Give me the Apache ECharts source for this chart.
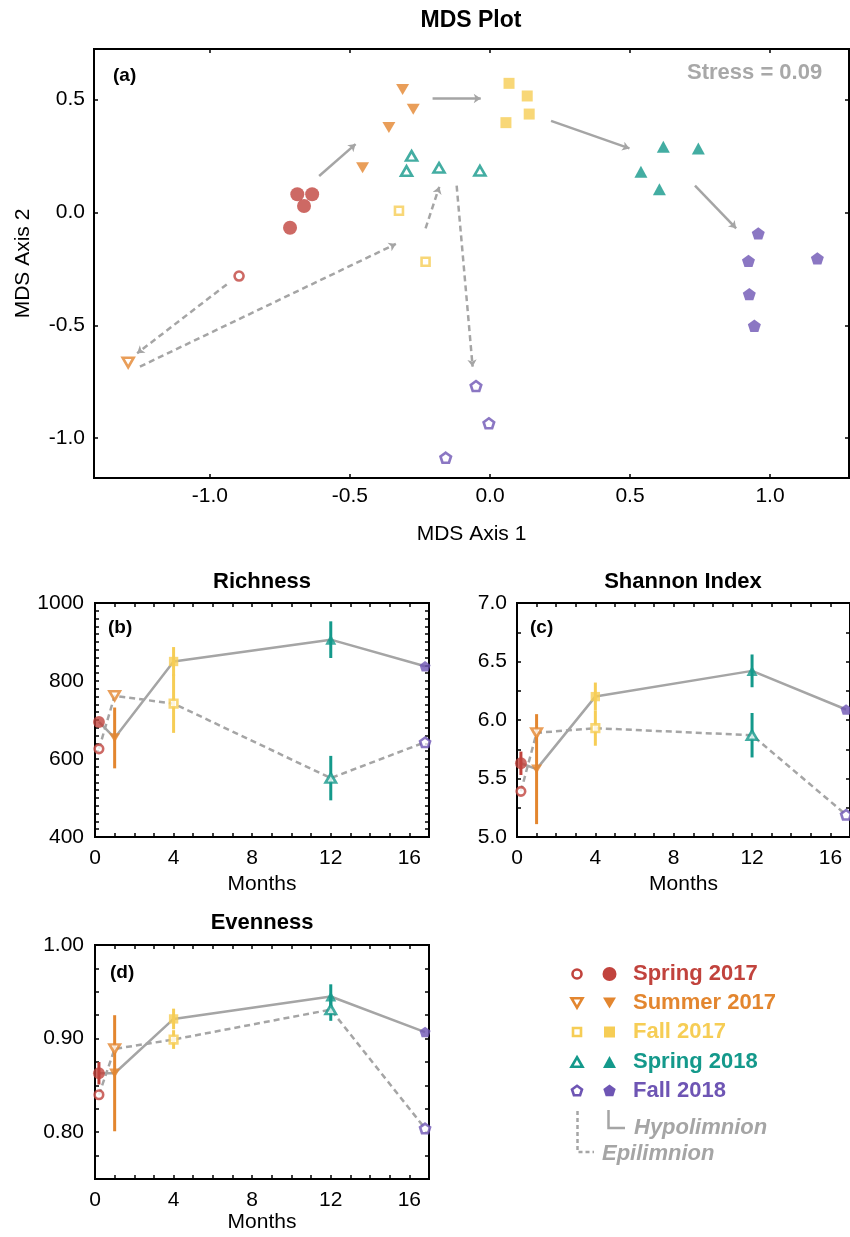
<!DOCTYPE html>
<html>
<head>
<meta charset="utf-8">
<title>MDS Plot, Richness, Shannon Index, Evenness</title>
<script src="https://cdn.jsdelivr.net/npm/echarts@6.0.0/dist/echarts.min.js"></script>
<style>
  html, body { margin: 0; padding: 0; background: #fff; }
  #chart { width: 850px; height: 1237px; }
</style>
</head>
<body>
<div id="chart"></div>
<script>
// seasons and sampling time (months)
var seasons = ['Spring 2017', 'Summer 2017', 'Fall 2017', 'Spring 2018', 'Fall 2018'];
var months = [0.2, 1, 4, 12, 16.8];

// MDS coordinates (axis 1, axis 2); Hypo = hypolimnion (filled), Epi = epilimnion (open)
var mdsSpring17Hypo = [[-0.688, 0.080], [-0.635, 0.080], [-0.664, 0.028], [-0.714, -0.068]];
var mdsSummer17Hypo = [[-0.312, 0.544], [-0.274, 0.456], [-0.361, 0.376], [-0.455, 0.197]];
var mdsFall17Hypo = [[0.068, 0.571], [0.133, 0.515], [0.140, 0.435], [0.057, 0.397]];
var mdsSpring18Hypo = [[0.619, 0.290], [0.744, 0.283], [0.539, 0.180], [0.605, 0.102]];
var mdsFall18Hypo = [[0.958, -0.093], [1.169, -0.204], [0.923, -0.215], [0.926, -0.362], [0.944, -0.502]];
var mdsSpring17Epi = [[-0.896, -0.282]];
var mdsSummer17Epi = [[-1.292, -0.665]];
var mdsFall17Epi = [[-0.325, 0.007], [-0.230, -0.219]];
var mdsSpring18Epi = [[-0.280, 0.250], [-0.298, 0.183], [-0.182, 0.197], [-0.036, 0.184]];
var mdsFall18Epi = [[-0.050, -0.769], [-0.004, -0.934], [-0.158, -1.086]];

// arrows between seasons (from, to) in MDS units
var hypoArrows = [
    [[-0.610, 0.161], [-0.480, 0.302]],
    [[-0.205, 0.504], [-0.033, 0.504]],
    [[0.218, 0.405], [0.498, 0.283]],
    [[0.732, 0.118], [0.879, -0.071]]
];
var epiArrows = [
    [[-0.940, -0.319], [-1.260, -0.624]],
    [[-1.250, -0.683], [-0.336, -0.140]],
    [[-0.230, -0.071], [-0.181, 0.113]],
    [[-0.119, 0.118], [-0.062, -0.683]]
];

// diversity indices, one value per season (null = no visible error bar)
var richHypo = [695, 654, 850, 906, 838];
var richHypoErr = [null, 78, 37, 47, null];
var richEpi = [626, 762, 742, 551, 643];
var richEpiErr = [null, null, 75, 57, null];

var shanHypo = [5.63, 5.58, 6.20, 6.42, 6.09];
var shanHypoErr = [0.10, 0.47, 0.12, 0.14, null];
var shanEpi = [5.39, 5.89, 5.93, 5.87, 5.19];
var shanEpiErr = [null, null, 0.15, 0.19, null];

var evenHypo = [0.863, 0.863, 0.921, 0.945, 0.907];
var evenHypoErr = [0.012, 0.062, 0.011, 0.013, null];
var evenEpi = [0.840, 0.889, 0.899, 0.931, 0.804];
var evenEpiErr = [null, null, 0.010, 0.012, null];

// tick labels
var mdsXLabels = [-1, -0.5, 0, 0.5, 1];
var mdsYLabels = [-1, -0.5, 0, 0.5];
var monthLabels = [0, 4, 8, 12, 16];
var richLabels = [400, 600, 800, 1000];
var shanLabels = [5.0, 5.5, 6.0, 6.5, 7.0];
var evenLabels = [0.80, 0.90, 1.00];

function steps(a, b, step) {
    var out = [];
    for (var v = a; v <= b + step / 1000; v += step) out.push(Math.round(v * 1000) / 1000);
    return out;
}
var monthTicks = steps(0, 17, 1);
var richTicks = steps(400, 1000, 20);
var shanTicks = steps(5, 7, 0.25);
var evenTicks = steps(0.75, 1, 0.025);

// ---- styles ----
var FONT = '"Liberation Sans", Arial, Helvetica, sans-serif';
var GRAY = '#a5a5a5';
var seasonColors = ['#c1433d', '#e3862f', '#f6cd55', '#14998b', '#6e55b4'];
var pentagon = 'path://M0,-10L9.511,-3.09L5.878,8.09L-5.878,8.09L-9.511,-3.09Z';
var seasonSymbols = ['circle', 'triangle', 'rect', 'triangle', pentagon];
var seasonRotate = [0, 180, 0, 0, 0];
var filledSize = [[14, 14], [13, 11], [11, 11], [13, 12], [13, 12.4]];
var openSize = [[9, 9], [11, 9.5], [8, 8], [11, 9.5], [10.5, 10]];

function markerItem(value, s, open, scale) {
    var sz = open ? openSize[s] : filledSize[s];
    return {
        value: value,
        symbol: seasonSymbols[s],
        symbolRotate: seasonRotate[s],
        symbolSize: [sz[0] * scale, sz[1] * scale],
        itemStyle: open
            ? { color: '#fff', borderColor: seasonColors[s], borderWidth: 2.6 }
            : { color: seasonColors[s], borderWidth: 0 }
    };
}

var labelStyle = { color: '#000', fontSize: 21, fontFamily: FONT };
var tickStyle = { color: '#000', width: 1.5 };

function axisPair(dim, g, min, max, labels, ticks, fmt, margin, name, gap) {
    var main = {
        type: 'value', gridIndex: g, min: min, max: max,
        position: dim === 'x' ? 'bottom' : 'left',
        axisLine: { show: false, onZero: false }, splitLine: { show: false },
        axisTick: { show: true, inside: true, length: 4, customValues: ticks, lineStyle: tickStyle },
        axisLabel: Object.assign({ customValues: labels, formatter: fmt, margin: margin }, labelStyle)
    };
    if (name) {
        main.name = name;
        main.nameLocation = 'middle';
        main.nameGap = gap;
        main.nameTextStyle = { color: '#000', fontSize: 21, fontFamily: FONT };
    }
    var opp = {
        type: 'value', gridIndex: g, min: min, max: max,
        position: dim === 'x' ? 'top' : 'right',
        axisLine: { show: false, onZero: false }, splitLine: { show: false },
        axisTick: { show: true, inside: true, length: 4, customValues: ticks, lineStyle: tickStyle },
        axisLabel: { show: false }
    };
    return [main, opp];
}

function fix(n) { return function (v) { return Number(v).toFixed(n); }; }

var grids = [
    { left: 94, top: 49, width: 755, height: 429 },
    { left: 95, top: 603, width: 334, height: 234 },
    { left: 517, top: 603, width: 333, height: 234 },
    { left: 95, top: 945, width: 334, height: 234 }
].map(function (g) {
    return Object.assign({ show: true, borderColor: '#000', borderWidth: 2, backgroundColor: 'transparent',
        containLabel: false, outerBoundsMode: 'none' }, g);
});

var xAxes = [].concat(
    axisPair('x', 0, -1.414, 1.282, mdsXLabels, mdsXLabels, fix(1), 8, 'MDS Axis 1', 46),
    axisPair('x', 1, 0, 17, monthLabels, monthTicks, fix(0), 11, 'Months', 37),
    axisPair('x', 2, 0, 17, monthLabels, monthTicks, fix(0), 11, 'Months', 37),
    axisPair('x', 3, 0, 17, monthLabels, monthTicks, fix(0), 11, 'Months', 33)
);
var yAxes = [].concat(
    axisPair('y', 0, -1.176, 0.723, mdsYLabels, mdsYLabels, fix(1), 9, 'MDS Axis 2', 60),
    axisPair('y', 1, 400, 1000, richLabels, richTicks, fix(0), 11),
    axisPair('y', 2, 5, 7, shanLabels, shanTicks, fix(1), 10),
    axisPair('y', 3, 0.75, 1, evenLabels, evenTicks, fix(2), 11)
);

var series = [];

// MDS arrows
function arrowSeries(list, dashed) {
    return {
        type: 'lines', coordinateSystem: 'cartesian2d', xAxisIndex: 0, yAxisIndex: 0, z: 3, silent: true,
        symbol: ['none', 'arrow'], symbolSize: 7,
        lineStyle: { color: GRAY, width: 2.5, opacity: 1, curveness: 0, type: dashed ? [6, 4] : 'solid' },
        data: list.map(function (a) { return { coords: a }; })
    };
}
series.push(arrowSeries(hypoArrows, false));
series.push(arrowSeries(epiArrows, true));

// MDS points
var mdsHypo = [mdsSpring17Hypo, mdsSummer17Hypo, mdsFall17Hypo, mdsSpring18Hypo, mdsFall18Hypo];
var mdsEpi = [mdsSpring17Epi, mdsSummer17Epi, mdsFall17Epi, mdsSpring18Epi, mdsFall18Epi];
mdsHypo.forEach(function (pts, s) {
    series.push({ type: 'scatter', name: seasons[s] + ' Hypolimnion', xAxisIndex: 0, yAxisIndex: 0, z: 5,
        data: pts.map(function (p) { return markerItem(p, s, false, 1); }) });
});
mdsEpi.forEach(function (pts, s) {
    series.push({ type: 'scatter', name: seasons[s] + ' Epilimnion', xAxisIndex: 0, yAxisIndex: 0, z: 5,
        data: pts.map(function (p) { return markerItem(p, s, true, 1); }) });
});

// diversity panels
function errorSeries(ax, vals, errs) {
    var data = [];
    months.forEach(function (m, i) {
        if (errs[i] != null) data.push([m, vals[i] - errs[i], vals[i] + errs[i], i]);
    });
    return {
        type: 'custom', xAxisIndex: ax, yAxisIndex: ax, z: 4, silent: true,
        encode: { x: 0, y: [1, 2] },
        renderItem: function (params, api) {
            var lo = api.coord([api.value(0), api.value(1)]);
            var hi = api.coord([api.value(0), api.value(2)]);
            return { type: 'line', shape: { x1: lo[0], y1: lo[1], x2: hi[0], y2: hi[1] },
                style: { stroke: seasonColors[api.value(3)], lineWidth: 3 } };
        },
        data: data
    };
}

function panel(g, hypo, hypoErr, epi, epiErr) {
    var ax = 2 * g;
    var pair = function (vals) { return months.map(function (m, i) { return [m, vals[i]]; }); };
    series.push({ type: 'line', xAxisIndex: ax, yAxisIndex: ax, z: 2, silent: true, symbol: 'none',
        lineStyle: { color: GRAY, width: 2.5 }, data: pair(hypo) });
    series.push({ type: 'line', xAxisIndex: ax, yAxisIndex: ax, z: 2, silent: true, symbol: 'none',
        lineStyle: { color: GRAY, width: 2.5, type: [6, 4] }, data: pair(epi) });
    series.push(errorSeries(ax, hypo, hypoErr));
    series.push(errorSeries(ax, epi, epiErr));
    series.push({ type: 'scatter', xAxisIndex: ax, yAxisIndex: ax, z: 5, clip: false,
        data: pair(epi).map(function (p, s) { return markerItem(p, s, true, 0.95); }) });
    series.push({ type: 'scatter', xAxisIndex: ax, yAxisIndex: ax, z: 6, clip: false,
        data: pair(hypo).map(function (p, s) { return markerItem(p, s, false, 0.85); }) });
}
panel(1, richHypo, richHypoErr, richEpi, richEpiErr);
panel(2, shanHypo, shanHypoErr, shanEpi, shanEpiErr);
panel(3, evenHypo, evenHypoErr, evenEpi, evenEpiErr);

// titles
function titleAt(text, cx, top, size) {
    return { text: text, left: cx, top: top, textAlign: 'center', padding: 0,
        textStyle: { color: '#000', fontSize: size, fontWeight: 'bold', fontFamily: FONT } };
}
var titles = [
    titleAt('MDS Plot', 471, 9, 23),
    titleAt('Richness', 262, 571, 22),
    titleAt('Shannon Index', 683, 571, 22),
    titleAt('Evenness', 262, 912, 22)
];

// texts, legend
function txt(text, x, y, font, fill) {
    return { type: 'text', z: 10, silent: true,
        style: { text: text, x: x, y: y, font: font, fill: fill, textVerticalAlign: 'middle', verticalAlign: 'middle' } };
}
function legendShape(s, cx, cy, open) {
    var sz = open ? openSize[s] : filledSize[s];
    var w = sz[0], h = sz[1];
    var style = open ? { fill: '#fff', stroke: seasonColors[s], lineWidth: 2.6 } : { fill: seasonColors[s] };
    var pts;
    if (s === 0) return { type: 'circle', shape: { cx: cx, cy: cy, r: w / 2 }, style: style };
    if (s === 2) return { type: 'rect', shape: { x: cx - w / 2, y: cy - h / 2, width: w, height: h }, style: style };
    if (s === 1) pts = [[cx - w / 2, cy - h / 2], [cx + w / 2, cy - h / 2], [cx, cy + h / 2]];
    else if (s === 3) pts = [[cx, cy - h / 2], [cx + w / 2, cy + h / 2], [cx - w / 2, cy + h / 2]];
    else {
        pts = [];
        for (var k = 0; k < 5; k++) {
            var a = (-90 + 72 * k) * Math.PI / 180;
            pts.push([cx + w / 2 * Math.cos(a), cy + w / 2 * Math.sin(a)]);
        }
    }
    return { type: 'polygon', shape: { points: pts }, style: style };
}

var boldFont = 'bold 22px ' + FONT;
var graphics = [
    txt('(a)', 113, 76, 'bold 19px ' + FONT, '#000'),
    txt('(b)', 108, 628, 'bold 19px ' + FONT, '#000'),
    txt('(c)', 530, 628, 'bold 19px ' + FONT, '#000'),
    txt('(d)', 110, 973, 'bold 19px ' + FONT, '#000'),
    txt('Stress = 0.09', 687, 73, 'bold 22px ' + FONT, '#a8a8a8')
];
var rowY = [974, 1003, 1032, 1062, 1091];
seasons.forEach(function (name, s) {
    graphics.push(legendShape(s, 577, rowY[s], true));
    graphics.push(legendShape(s, 609.5, rowY[s], false));
    graphics.push(txt(name, 633, rowY[s], boldFont, seasonColors[s]));
});
graphics.push({ type: 'polyline', shape: { points: [[608.5, 1110], [608.5, 1128], [625, 1128]] },
    style: { stroke: GRAY, lineWidth: 2.5, fill: null } });
graphics.push({ type: 'polyline', shape: { points: [[577.5, 1111], [577.5, 1152], [594, 1152]] },
    style: { stroke: GRAY, lineWidth: 2.5, fill: null, lineDash: [4, 3] } });
graphics.push(txt('Hypolimnion', 634, 1128, 'italic bold 22px ' + FONT, GRAY));
graphics.push(txt('Epilimnion', 602, 1154, 'italic bold 22px ' + FONT, GRAY));

var myChart = echarts.init(document.getElementById('chart'), null, { renderer: 'canvas' });
myChart.setOption({
    backgroundColor: '#fff',
    animation: false,
    title: titles,
    grid: grids,
    xAxis: xAxes,
    yAxis: yAxes,
    series: series,
    graphic: { elements: graphics }
});
</script>
</body>
</html>
